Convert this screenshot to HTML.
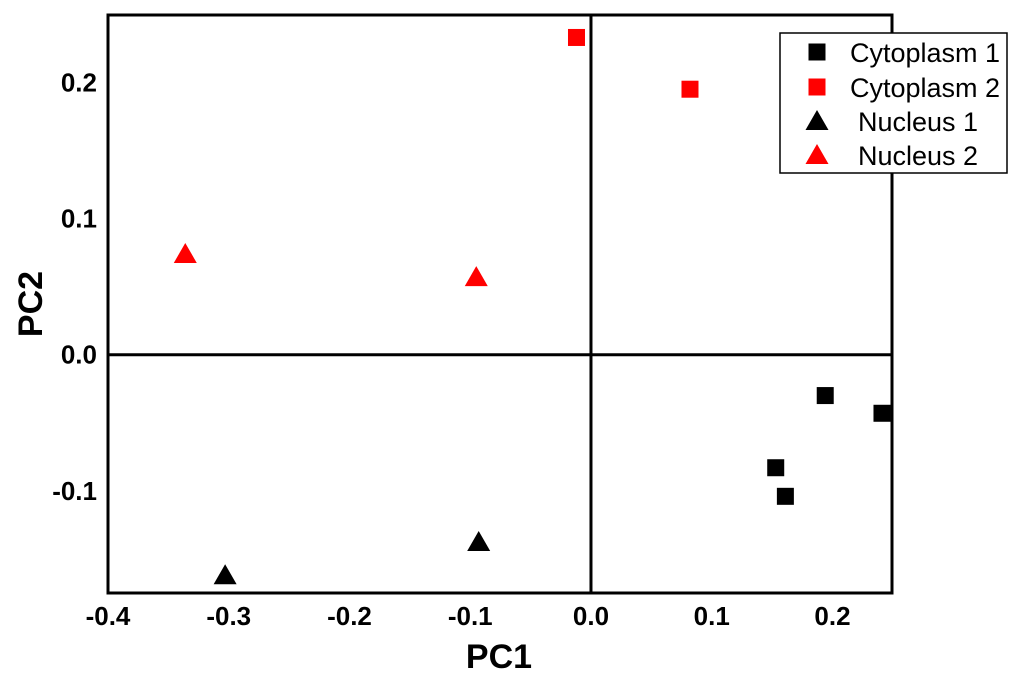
<!DOCTYPE html>
<html><head><meta charset="utf-8"><style>
html,body{margin:0;padding:0;background:#fff;}
svg text{font-family:"Liberation Sans",Arial,sans-serif;font-weight:bold;}
.tick{font-size:26px;}
.title{font-size:34px;}
.leg{font-size:27px;font-weight:normal !important;}
</style></head><body>
<svg id="chart" width="1024" height="681" xmlns="http://www.w3.org/2000/svg"></svg>
<script>
const xTicks=[-0.4,-0.3,-0.2,-0.1,0.0,0.1,0.2];
const xTickLabels=["-0.4","-0.3","-0.2","-0.1","0.0","0.1","0.2"];
const yTicks=[-0.1,0.0,0.1,0.2];
const yTickLabels=["-0.1","0.0","0.1","0.2"];
const seriesNames=["Cytoplasm 1","Cytoplasm 2","Nucleus 1","Nucleus 2"];
const cyto1X=[0.194,0.241,0.153,0.161];
const cyto1Y=[-0.030,-0.043,-0.083,-0.104];
const cyto2X=[-0.012,0.082];
const cyto2Y=[0.233,0.195];
const nuc1X=[-0.303,-0.093];
const nuc1Y=[-0.162,-0.1375];
const nuc2X=[-0.336,-0.095];
const nuc2Y=[0.074,0.057];

const NS="http://www.w3.org/2000/svg";
const svg=document.getElementById('chart');
const L=108,R=892,T=15,B=593;
const xmin=-0.4,xmax=0.2493,ymin=-0.175,ymax=0.2495;
const sx=v=>L+(v-xmin)/(xmax-xmin)*(R-L);
const sy=v=>B-(v-ymin)/(ymax-ymin)*(B-T);
function mk(tag,attrs){const e=document.createElementNS(NS,tag);for(const k in attrs)e.setAttribute(k,attrs[k]);svg.appendChild(e);return e;}

const frame=mk('rect',{x:L,y:T,width:R-L,height:B-T,fill:'none',stroke:'#000','stroke-width':3});


const zx=mk('line',{x1:sx(0),x2:sx(0),y1:T,y2:B,stroke:'#000','stroke-width':3});


const zy=mk('line',{x1:L,x2:R,y1:sy(0),y2:sy(0),stroke:'#000','stroke-width':3});



xTicks.forEach((v,i)=>{const t=mk('text',{x:sx(v),y:625,'text-anchor':'middle','class':'tick'});t.textContent=xTickLabels[i];

});
yTicks.forEach((v,i)=>{const t=mk('text',{x:97,y:sy(v)+9,'text-anchor':'end','class':'tick'});t.textContent=yTickLabels[i];

});

const xt=mk('text',{x:499,y:668,'text-anchor':'middle','class':'title'});xt.textContent='PC1';


const yt=mk('text',{x:0,y:0,'text-anchor':'middle','class':'title',transform:'translate(42,304) rotate(-90)'});yt.textContent='PC2';



function square(cx,cy,c){return mk('rect',{x:cx-8.5,y:cy-8.5,width:17,height:17,fill:c});}
function tri(cx,cy,c){return mk('polygon',{points:`${cx},${cy-11} ${cx+11.5},${cy+9} ${cx-11.5},${cy+9}`,fill:c});}
function plot(xs,ys,fn,c,name){xs.forEach((x,i)=>{const e=fn(sx(x),sy(ys[i]),c);

});}
plot(cyto1X,cyto1Y,square,'#000','cytoplasm-1-point');
plot(cyto2X,cyto2Y,square,'#f00','cytoplasm-2-point');
plot(nuc1X,nuc1Y,tri,'#000','nucleus-1-point');
plot(nuc2X,nuc2Y,tri,'#f00','nucleus-2-point');

const lg=mk('rect',{x:780,y:33,width:227,height:140,fill:'#fff',stroke:'#000','stroke-width':1.5});


const fns=[square,square,tri,tri],cols=['#000','#f00','#000','#f00'],ly=[52,87,121,155];
seriesNames.forEach((n,i)=>{const m=fns[i](817,ly[i],cols[i]);


const t=mk('text',{x:i<2?850:858,y:ly[i]+10,'class':'leg'});t.textContent=n;

});
</script>
</body></html>
